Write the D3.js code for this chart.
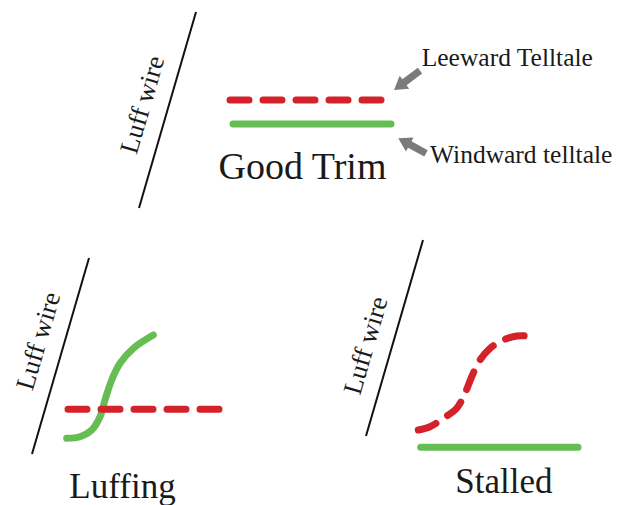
<!DOCTYPE html>
<html>
<head>
<meta charset="utf-8">
<script src="https://cdn.jsdelivr.net/npm/d3@7"></script>
<style>
  html, body { margin: 0; padding: 0; background: #ffffff; }
  svg { display: block; }
  text { font-family: "Liberation Serif", "DejaVu Serif", serif; fill: #1a1a1a; }
</style>
</head>
<body>
<svg id="chart" width="617" height="505"></svg>
<script>
// ---------- data (local panel units) ----------
const panelTitles = ["Good Trim", "Luffing", "Stalled"];
const titleSizes = [38, 35, 35];
const wireLabel = "Luff wire";
const wireLine = [[0, 0], [57, -196]];
const wireLabelT = [0.49, 0.54, 0.425];          // position of label along the wire
const leewardTelltales = [
  [[91, -108], [247, -108]],
  [[36, -44.7], [193, -44.7]],
  [[52.3, -6], [64, -9.3], [77.3, -17.7], [90.7, -27.7], [99, -42.7], [105.7, -59.3],
   [114, -76], [124, -87.7], [137.3, -96], [150.7, -100], [162.3, -100]]
];
const windwardTelltales = [
  [[94, -84], [252, -84]],
  [[34.7, -15.7], [48, -17.3], [59.7, -24], [68, -37.3], [73, -54], [79.7, -74],
   [88, -90.7], [101.3, -105.7], [121.3, -119]],
  [[54.7, 11.3], [212, 11.3]]
];
const titleAnchors = [[163.5, -29], [90.5, 43.5], [137.9, 57]];
const annotationLabels = ["Leeward Telltale", "Windward telltale"];
const annotationText = [[282.7, -142], [291, -45]];
const annotationArrows = [
  [[281, -137.3], [255, -118]],
  [[287, -54.7], [259.3, -69.7]]
];

// ---------- layout ----------
const panelOrigins = [[139, 208], [32, 454], [366, 436]];
const svg = d3.select("#chart");
const RED = "#d3222a", GREEN = "#5db94b", GRAY = "#7b7b7b";

panelTitles.forEach((title, i) => {
  const [ox, oy] = panelOrigins[i];
  const x = d3.scaleLinear().domain([0, 100]).range([ox, ox + 100]);
  const y = d3.scaleLinear().domain([0, 100]).range([oy, oy + 100]);
  const g = svg.append("g");
  const line = d3.line().x(d => x(d[0])).y(d => y(d[1])).curve(d3.curveCatmullRom.alpha(0.5));

  // luff wire
  g.append("path").attr("d", line(wireLine))
    .attr("fill", "none").attr("stroke", "#111").attr("stroke-width", 2);

  // wire label
  const t = wireLabelT[i];
  const wx = wireLine[0][0] + t * (wireLine[1][0] - wireLine[0][0]);
  const wy = wireLine[0][1] + t * (wireLine[1][1] - wireLine[0][1]);
  const ang = Math.atan2(wireLine[1][1] - wireLine[0][1], wireLine[1][0] - wireLine[0][0]);
  const nx = Math.sin(ang), ny = -Math.cos(ang); // left normal
  const off = 17;
  const lx = x(wx) + nx * off, ly = y(wy) + ny * off;
  g.append("text").text(wireLabel)
    .attr("transform", `translate(${lx},${ly}) rotate(${ang * 180 / Math.PI})`)
    .attr("text-anchor", "middle").attr("font-size", 26.5);

  // windward (solid green)
  g.append("path").attr("d", line(windwardTelltales[i]))
    .attr("fill", "none").attr("stroke", GREEN).attr("stroke-width", 7)
    .attr("stroke-linecap", "round").attr("stroke-opacity", 0.95);

  // leeward (dashed red)
  g.append("path").attr("d", line(leewardTelltales[i]))
    .attr("fill", "none").attr("stroke", RED).attr("stroke-width", 7)
    .attr("stroke-linecap", "round").attr("stroke-dasharray", "19 14");

  // title
  g.append("text").text(title)
    .attr("x", x(titleAnchors[i][0])).attr("y", y(titleAnchors[i][1]))
    .attr("text-anchor", "middle").attr("font-size", titleSizes[i]);

  if (i === 0) {
    annotationLabels.forEach((lab, k) => {
      g.append("text").text(lab)
        .attr("x", x(annotationText[k][0])).attr("y", y(annotationText[k][1]))
        .attr("font-size", 25.5);
      const [s, e] = annotationArrows[k];
      const x0 = x(s[0]), y0 = y(s[1]), x1 = x(e[0]), y1 = y(e[1]);
      const a = Math.atan2(y1 - y0, x1 - x0);
      const len = Math.hypot(x1 - x0, y1 - y0);
      const headL = 13, headW = 8, shaftW = 3.6;
      const pts = [
        [0, -shaftW], [len - headL, -shaftW], [len - headL, -headW],
        [len, 0], [len - headL, headW], [len - headL, shaftW], [0, shaftW]
      ].map(([u, v]) => [x0 + u * Math.cos(a) - v * Math.sin(a), y0 + u * Math.sin(a) + v * Math.cos(a)]);
      g.append("path").attr("d", d3.line()(pts) + "Z").attr("fill", GRAY);
    });
  }
});
</script>
</body>
</html>
